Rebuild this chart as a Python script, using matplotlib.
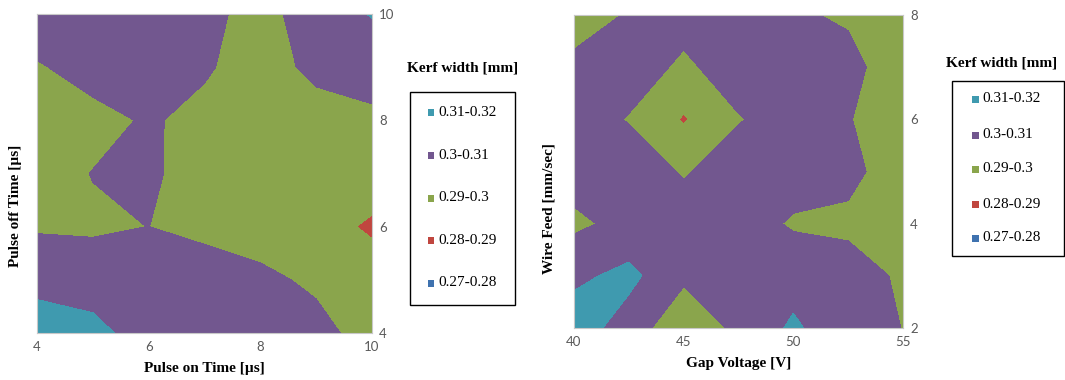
import matplotlib
matplotlib.use('Agg')
import matplotlib.pyplot as plt
from matplotlib.patches import Rectangle

# ---- data: kerf width [mm] ----
pulse_on = [4, 5, 6, 7, 8, 9, 10]
pulse_off = [4, 5, 6, 7, 8, 9, 10]
kerf_pulse = [
    [0.3168, 0.3137, 0.3042, 0.3050, 0.3050, 0.3034, 0.2955],
    [0.3060, 0.3040, 0.3050, 0.3060, 0.30235, 0.2981, 0.2935],
    [0.2991, 0.2990, 0.30005, 0.2970, 0.2950, 0.2926, 0.2890],
    [0.2970, 0.3002, 0.3011, 0.2970, 0.2950, 0.2950, 0.2935],
    [0.2970, 0.2977, 0.3008, 0.2979, 0.2960, 0.2966, 0.2982],
    [0.29925, 0.3030, 0.3040, 0.3009, 0.2964, 0.3020, 0.3040],
    [0.3050, 0.3060, 0.3050, 0.3030, 0.2960, 0.3058, 0.3105],
]

gap_voltage = [40, 42.5, 45, 47.5, 50, 52.5, 55]
wire_feed = [2, 3, 4, 5, 6, 7, 8]
kerf_gap = [
    [0.3150, 0.3055, 0.2924, 0.3024, 0.3116, 0.3031, 0.29987],
    [0.3080, 0.3125, 0.3020, 0.3040, 0.3060, 0.30305, 0.29895],
    [0.2980, 0.3030, 0.3085, 0.30424, 0.29894, 0.2985, 0.2975],
    [0.30425, 0.3089, 0.2985, 0.3086, 0.30424, 0.3019, 0.2961],
    [0.3090, 0.2990, 0.2892, 0.2990, 0.3073, 0.3006, 0.2931],
    [0.30155, 0.3081, 0.2970, 0.3079, 0.3060, 0.3035, 0.2929],
    [0.2970, 0.3005, 0.3061, 0.3050, 0.30144, 0.2985, 0.2950],
]

levels = [0.27, 0.28, 0.29, 0.30, 0.31, 0.32]
range_labels = ['0.27-0.28', '0.28-0.29', '0.29-0.3', '0.3-0.31', '0.31-0.32']
range_colors = ['#3F72AF', '#C0463F', '#8AA54C', '#72578F', '#3F9AAF']

W, H = 1065, 380
SERIF = 'Liberation Serif'
TICKFONT = 'Lato'


def fx(px):
    return px / W


def fy(py):
    return 1 - py / H


def contour_panel(box, xs, ys, zs, xticks, yticks, xlabel, ylabel, xlab_y, ylab_xy):
    left, top, right, bottom = box
    ax = fig.add_axes([fx(left), fy(bottom), fx(right - left), (bottom - top) / H])
    ax.contourf(xs, ys, zs, levels=levels, colors=range_colors)
    ax.set_xlim(xs[0], xs[-1])
    ax.set_ylim(ys[0], ys[-1])
    ax.set_xticks(xticks)
    ax.set_yticks(yticks)
    ax.yaxis.tick_right()
    ax.tick_params(length=0, labelsize=9.5, labelcolor='#595959')
    ax.tick_params(axis='x', pad=6)
    ax.tick_params(axis='y', pad=5)
    for lab in ax.get_xticklabels() + ax.get_yticklabels():
        lab.set_fontfamily(TICKFONT)
    for sp in ax.spines.values():
        sp.set_color('#C8C8C8')
        sp.set_linewidth(0.8)
    ax.set_xlabel(xlabel, fontfamily=SERIF, fontweight='bold', fontsize=11)
    ax.set_ylabel(ylabel, fontfamily=SERIF, fontweight='bold', fontsize=11)
    ax.xaxis.set_label_coords(0.5, xlab_y)
    ax.yaxis.set_label_position('left')
    ax.yaxis.set_label_coords(*ylab_xy)
    return ax


def kerf_legend(title_xy, box, rows_y, marker_x, text_x):
    fig.text(fx(title_xy[0]), fy(title_xy[1]), 'Kerf width [mm]', ha='center', va='center',
             fontfamily=SERIF, fontweight='bold', fontsize=11)
    x0, y0, x1, y1 = box
    fig.add_artist(Rectangle((fx(x0), fy(y1)), fx(x1 - x0), (y1 - y0) / H, fill=False,
                             edgecolor='black', linewidth=1.0, transform=fig.transFigure))
    # legend lists the highest range first
    for y, lab, col in zip(rows_y, range_labels[::-1], range_colors[::-1]):
        fig.add_artist(Rectangle((fx(marker_x - 3.5), fy(y + 3.5)), fx(7), 7 / H,
                                 facecolor=col, edgecolor='none', transform=fig.transFigure))
        fig.text(fx(text_x), fy(y), lab, ha='left', va='center', fontfamily=SERIF, fontsize=11)


fig = plt.figure(figsize=(W / 100, H / 100), dpi=100)

contour_panel((37, 14, 372, 333), pulse_on, pulse_off, kerf_pulse, [4, 6, 8, 10], [4, 6, 8, 10],
              'Pulse on Time [µs]', 'Pulse off Time [µs]', -0.092, (-0.045, 0.40))
kerf_legend((463, 68), (410, 92, 515, 305), [112, 155, 198, 240, 283], 431, 438)

contour_panel((574, 15, 903, 328), gap_voltage, wire_feed, kerf_gap, [40, 45, 50, 55], [2, 4, 6, 8],
              'Gap Voltage [V]', 'Wire Feed [mm/sec]', -0.094, (-0.055, 0.38))
kerf_legend((1002, 63), (952, 81, 1064, 256), [99, 135, 169, 204, 238], 975, 982)

fig.savefig('out.png', dpi=100)
